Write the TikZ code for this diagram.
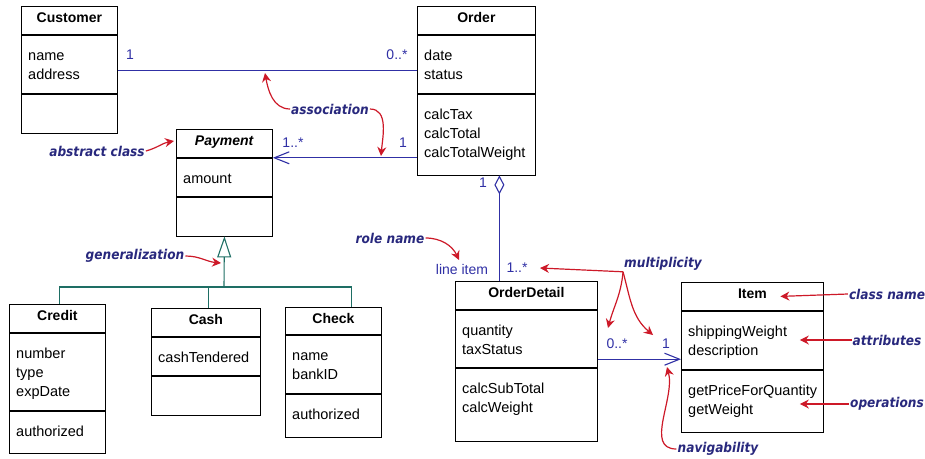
\documentclass[tikz,border=0pt]{standalone}
\usepackage{fontspec}
\setmainfont{Liberation Sans}
\newfontfamily\notefont{DejaVu Sans Condensed}
\usetikzlibrary{arrows.meta}
\definecolor{assocblue}{RGB}{48,48,165}
\definecolor{genteal}{RGB}{30,110,100}
\definecolor{notenavy}{RGB}{40,40,125}
\definecolor{notered}{RGB}{205,25,40}

\tikzset{
  classbox/.style={draw, line width=0.8pt, anchor=north west, inner sep=0pt},
  classhead/.style={classbox, font=\bfseries\fontsize{14}{19}\selectfont, text height=10pt, text depth=5pt},
  members/.style={anchor=north west, align=left, inner xsep=7pt, inner ysep=0pt, font=\fontsize{14.5}{19}\selectfont},
  assoc/.style={assocblue, line width=1.1pt},
  gen/.style={genteal, line width=1.1pt},
  mult/.style={text=assocblue, font=\fontsize{14}{16}\selectfont, inner sep=0pt},
  note/.style={text=notenavy, font=\notefont\bfseries\itshape\fontsize{13.5}{15}\selectfont, inner sep=1pt},
  pointer/.style={notered, line width=1.2pt, -{Stealth[length=9pt, width=9pt]}},
}

% one class = header, attributes, operations
\newcommand{\umlclass}[9]{%
  \node[classhead, minimum width=#3, minimum height=#4] (#1) at #2 {#7};
  \node[classbox, minimum width=#3, minimum height=#5,
    label={[members]north west:{\rule{0pt}{25.5pt}#8}}] (#1-attr) at (#1.south west) {};
  \node[classbox, minimum width=#3, minimum height=#6,
    label={[members]north west:{\rule{0pt}{25.5pt}#9}}] (#1-ops) at (#1-attr.south west) {};
}

\begin{document}
\begin{tikzpicture}[x=1pt, y=-1pt]
  \useasboundingbox (0,0) rectangle (925,458);

  % classes
  \umlclass{customer}{(21,6)}{96pt}{28pt}{58pt}{39pt}{Customer}{name\\address}{}
  \umlclass{order}{(417,6)}{118pt}{28pt}{58pt}{81pt}{Order}{date\\status}{calcTax\\calcTotal\\calcTotalWeight}
  \umlclass{payment}{(176,129)}{96pt}{28pt}{38pt}{39pt}{\textit{Payment}}{amount}{}
  \umlclass{credit}{(9,304)}{96pt}{28pt}{77pt}{42pt}{Credit}{number\\type\\expDate}{authorized}
  \umlclass{cash}{(151,308)}{109pt}{28pt}{38pt}{39pt}{Cash}{cashTendered}{}
  \umlclass{check}{(285,307)}{96pt}{27pt}{58pt}{43pt}{Check}{name\\bankID}{authorized}
  \umlclass{orderdetail}{(455,281)}{142pt}{28pt}{57pt}{73pt}{OrderDetail}{quantity\\taxStatus}{calcSubTotal\\calcWeight}
  \umlclass{item}{(681,282)}{142pt}{28pt}{58pt}{62pt}{Item}{shippingWeight\\description}{getPriceForQuantity\\getWeight}

  % associations
  \draw[assoc] ([yshift=-6pt]customer-attr.east) -- ([yshift=-6pt]order-attr.west);
  \draw[assoc, -{Straight Barb[length=15pt, width=12pt]}] (order-ops.west |- payment.south east) -- (payment.south east);
  \draw[assoc, {Diamond[open, length=19pt, width=10pt]}-] ([xshift=23pt]order-ops.south) -- ([xshift=23pt]order-ops.south |- orderdetail.north);
  \draw[assoc, -{Straight Barb[length=15pt, width=12pt]}] ([yshift=-20.5pt]orderdetail-attr.east) -- ([yshift=-20.5pt]orderdetail-attr.east -| item-attr.west);

  % generalization
  \coordinate (gen-join) at (224,287);
  \draw[gen, -{Triangle[open, length=21pt, width=14pt]}] (gen-join) -- (payment-ops.south);
  \draw[gen] ([xshift=2pt]credit.north) |- (gen-join) -| ([xshift=18pt]check.north);
  \draw[gen] ([xshift=2.5pt]cash.north) -- ([xshift=2.5pt]cash.north |- gen-join);

  % multiplicities and role name
  \node[mult] (customer-mult) at (130,55) {1};
  \node[mult] (order-mult) at (397,55) {0..*};
  \node[mult] (payment-mult) at (293,143) {1..*};
  \node[mult] (order-pay-mult) at (403,143) {1};
  \node[mult] (agg-mult) at (483,183) {1};
  \node[mult] (role) at (462,269) {line item};
  \node[mult] (detail-mult) at (517,268) {1..*};
  \node[mult] (detail-item-mult) at (617,344) {0..*};
  \node[mult] (item-mult) at (666,344) {1};

  % notes
  \node[note] (assoc-note) at (330,109) {association};
  \node[note] (abstract-note) at (97,151) {abstract class};
  \node[note] (gen-note) at (135,256) {generalization};
  \node[note] (role-note) at (390,238) {role name};
  \node[note] (mult-note) at (663,264) {multiplicity};
  \node[note] (classname-note) at (887,294) {class name};
  \node[note] (attr-note) at (887,340) {attributes};
  \node[note] (ops-note) at (887,404) {operations};
  \node[note] (nav-note) at (718,449) {navigability};

  \coordinate (assoc-tip) at (265,73);
  \coordinate (pay-tip) at (381,156);
  \coordinate (abstract-tip) at (174,141);
  \coordinate (gen-tip) at (221,263);
  \coordinate (role-tip) at (459,260);
  \coordinate (mult-tip1) at (540,268);
  \coordinate (mult-tip2) at (608,328);
  \coordinate (mult-tip3) at (653,335);
  \coordinate (nav-tip) at (667,367);

  \draw[pointer] (assoc-note.west) to[out=180, in=-80] (assoc-tip);
  \draw[pointer] (assoc-note.east) to[out=0, in=85] (pay-tip);
  \draw[pointer] (abstract-note.east) to[out=15, in=190] (abstract-tip);
  \draw[pointer] (gen-note.east) to[out=0, in=175] (gen-tip);
  \draw[pointer] (role-note.east) to[out=0, in=115] (role-tip);
  \draw[pointer] (mult-note.south west) -- (mult-tip1);
  \draw[pointer] (mult-note.south west) to[out=-95, in=75] (mult-tip2);
  \draw[pointer] (mult-note.south west) to[out=-75, in=140] (mult-tip3);
  \draw[pointer] (classname-note.west) -- ([xshift=28pt]item.center);
  \draw[pointer] (attr-note.west) -- ([xshift=-24pt]attr-note.west -| item-attr.east);
  \draw[pointer] (ops-note.west) -- ([xshift=-24pt]ops-note.west -| item-ops.east);
  \draw[pointer] (nav-note.west) to[out=180, in=-75] (nav-tip);
\end{tikzpicture}
\end{document}
